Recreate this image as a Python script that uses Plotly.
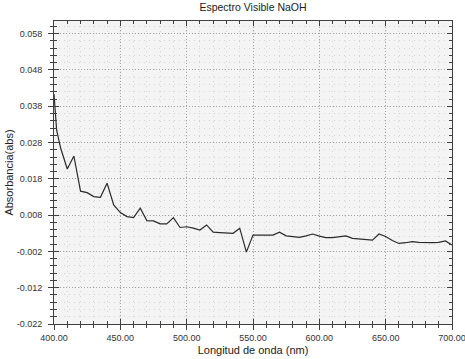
import plotly.graph_objects as go

wavelength = [400, 402, 405, 410, 415, 420, 425, 430, 435, 440, 445, 450, 455, 460, 465, 470, 475, 480,
              485, 490, 495, 500, 505, 510, 515, 520, 525, 530, 535, 540, 545, 550, 555, 560, 565,
              570, 575, 580, 585, 590, 595, 600, 605, 610, 615, 620, 625, 630, 635, 640, 645, 650,
              655, 660, 665, 670, 675, 680, 685, 690, 695, 700]
absorbance = [0.0414, 0.0314, 0.0265, 0.0207, 0.0243, 0.0146, 0.0142, 0.0131, 0.0129, 0.0168, 0.0108,
              0.0087, 0.0076, 0.0073, 0.0099, 0.0065, 0.0064, 0.0056, 0.0056, 0.0073, 0.0046, 0.0048,
              0.0044, 0.0039, 0.0053, 0.0033, 0.0032, 0.0031, 0.0030, 0.0044, -0.0022, 0.0025, 0.0025,
              0.0025, 0.0025, 0.0033, 0.0023, 0.0021, 0.0019, 0.0023, 0.0028, 0.0022, 0.0018, 0.0018,
              0.0021, 0.0023, 0.0016, 0.0014, 0.0011, 0.0011, 0.0028, 0.0021, 0.0010, 0.0002, 0.0004,
              0.0007, 0.0005, 0.0004, 0.0004, 0.0005, 0.0009, -0.0002]

x_tickvals = [400, 450, 500, 550, 600, 650, 700]
x_ticktext = ["400.00", "450.00", "500.00", "550.00", "600.00", "650.00", "700.00"]
y_tickvals = [-0.022, -0.012, -0.002, 0.008, 0.018, 0.028, 0.038, 0.048, 0.058]
y_ticktext = ["-0.022", "-0.012", "-0.002", "0.008", "0.018", "0.028", "0.038", "0.048", "0.058"]

title_text = "Espectro Visible NaOH"
x_title = "Longitud de onda (nm)"
y_title = "Absorbancia(abs)"

x_range = [400, 700.0001]
y_range = [-0.022, 0.0615]

FONT = "Liberation Sans"
AX = "#404040"

fig = go.Figure()
fig.add_trace(go.Scatter(x=wavelength, y=absorbance, mode="lines",
                         line=dict(color="#2b2b2b", width=1.2), showlegend=False))
fig.add_trace(go.Scatter(x=[wavelength[0]], y=[absorbance[0]], xaxis="x2", yaxis="y2",
                         mode="markers", marker=dict(opacity=0), showlegend=False, hoverinfo="skip"))

fig.update_layout(
    width=465, height=359,
    margin=dict(l=54, r=13, t=21, b=35, autoexpand=False),
    paper_bgcolor="white", plot_bgcolor="#f4f4f4",
    font=dict(family=FONT, size=9, color="#333333"),
    title=dict(text=title_text, x=0.5, xref="paper", y=0.99, yanchor="top",
               font=dict(family=FONT, size=10.5, color="#222222")),
    xaxis=dict(range=x_range, tickmode="array", tickvals=x_tickvals, ticktext=x_ticktext,
               automargin=False, ticklabeloverflow="allow",
               ticks="inside", ticklen=5, tickcolor=AX, tickwidth=1, ticklabelstandoff=5,
               mirror="allticks", showline=True, linecolor=AX, linewidth=1,
               showgrid=True, gridcolor="#a6a6a6", griddash="1px,2px", gridwidth=1,
               zeroline=False,
               minor=dict(dtick=10, tick0=400, ticks="inside", ticklen=3, tickcolor=AX,
                          showgrid=True, gridcolor="#d6d6d6", griddash="1px,4px"),
               title=dict(text=x_title, font=dict(family=FONT, size=11, color="#222222"), standoff=4),
               tickfont=dict(size=9, color="#333333")),
    yaxis=dict(range=y_range, tickmode="array", tickvals=y_tickvals, ticktext=y_ticktext,
               automargin=False, ticklabeloverflow="allow",
               ticks="inside", ticklen=5, tickcolor=AX, tickwidth=1, ticklabelstandoff=9,
               mirror="allticks", showline=True, linecolor=AX, linewidth=1,
               showgrid=True, gridcolor="#a6a6a6", griddash="1px,2px", gridwidth=1,
               zeroline=False,
               minor=dict(dtick=0.002, tick0=-0.022, ticks="inside", ticklen=3, tickcolor=AX,
                          showgrid=True, gridcolor="#d6d6d6", griddash="1px,4px"),
               title=dict(text=y_title, font=dict(family=FONT, size=11, color="#222222"), standoff=0),
               tickfont=dict(size=9, color="#333333")),
    xaxis2=dict(range=x_range, overlaying="x", side="bottom", tickmode="array", tickvals=x_tickvals,
                automargin=False,
                ticks="outside", ticklen=5, tickcolor=AX, showticklabels=False,
                showgrid=False, zeroline=False, showline=False,
                minor=dict(dtick=10, tick0=400, ticks="outside", ticklen=3, tickcolor=AX, showgrid=False)),
    yaxis2=dict(range=y_range, overlaying="y", side="left", tickmode="array", tickvals=y_tickvals,
                automargin=False,
                ticks="outside", ticklen=5, tickcolor=AX, showticklabels=False,
                showgrid=False, zeroline=False, showline=False,
                minor=dict(dtick=0.002, tick0=-0.022, ticks="outside", ticklen=3, tickcolor=AX, showgrid=False)),
)

fig.write_html("out.html", config={"displayModeBar": False},
               post_script="document.body.style.margin='0';document.body.style.overflow='hidden';")
